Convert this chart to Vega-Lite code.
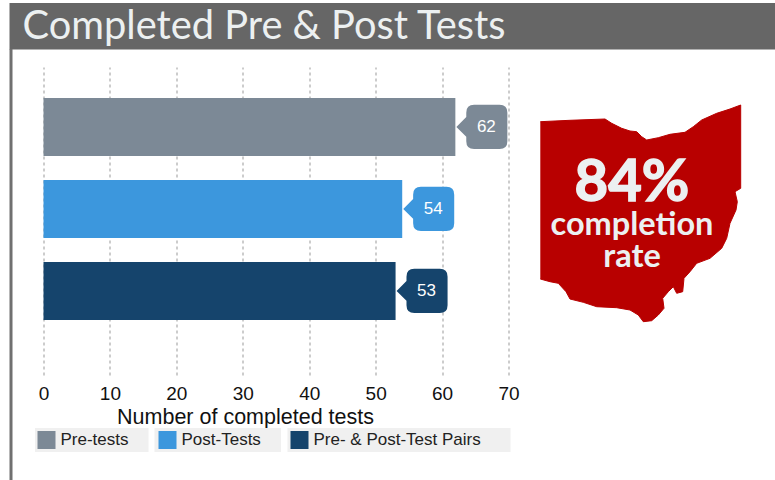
{
"$schema":"https://vega.github.io/schema/vega-lite/v6.json",
"width":465,"height":308,
"autosize":{"type":"none"},
"padding":{"left":43.5,"top":67,"right":266.5,"bottom":105},
"background":"white",
"title":{"text":"Completed Pre & Post Tests","anchor":"start","frame":"group","dx":-21,"offset":-76,"baseline":"alphabetic","font":"Lato","fontSize":39.8,"fontWeight":"normal","color":"#ecf0f1"},
"datasets":{
"tests":[{"series":"Pre-tests","count":62},{"series":"Post-Tests","count":54},{"series":"Pre- & Post-Test Pairs","count":53}],
"panels":[{"part":"header","left":9.5,"right":775,"top":3,"bottom":49.5},{"part":"border","left":9.5,"right":12.5,"top":49,"bottom":480},{"part":"key1","left":35,"right":148.5,"top":428,"bottom":452},{"part":"key2","left":154.5,"right":281,"top":428,"bottom":452},{"part":"key3","left":287.5,"right":510.5,"top":428,"bottom":452}],
"ohio":[{"i":1,"mx":540.3,"my":121.7},{"i":2,"mx":570,"my":120.3},{"i":3,"mx":605,"my":119},{"i":4,"mx":611.7,"my":123.3},{"i":5,"mx":621.7,"my":128.3},{"i":6,"mx":630,"my":131},{"i":7,"mx":636.7,"my":131.7},{"i":8,"mx":641.7,"my":136.7},{"i":9,"mx":646.7,"my":140},{"i":10,"mx":658.3,"my":137.7},{"i":11,"mx":670,"my":134.3},{"i":12,"mx":685,"my":132.3},{"i":13,"mx":693.3,"my":126.7},{"i":14,"mx":701.7,"my":120},{"i":15,"mx":716.7,"my":113.3},{"i":16,"mx":730,"my":109},{"i":17,"mx":740.7,"my":105},{"i":18,"mx":740.7,"my":188.3},{"i":19,"mx":735,"my":191.7},{"i":20,"mx":737.3,"my":201.7},{"i":21,"mx":736,"my":210},{"i":22,"mx":730,"my":223.3},{"i":23,"mx":726.7,"my":238.3},{"i":24,"mx":721.7,"my":248.3},{"i":25,"mx":710,"my":258.3},{"i":26,"mx":696.7,"my":263.3},{"i":27,"mx":690,"my":271.7},{"i":28,"mx":684,"my":278.3},{"i":29,"mx":682.7,"my":291.7},{"i":30,"mx":676.7,"my":293.3},{"i":31,"mx":673.3,"my":286.7},{"i":32,"mx":668.3,"my":291.7},{"i":33,"mx":662.7,"my":298.3},{"i":34,"mx":664,"my":308.3},{"i":35,"mx":658.3,"my":315},{"i":36,"mx":651.7,"my":320.7},{"i":37,"mx":643.3,"my":321.7},{"i":38,"mx":638.3,"my":315},{"i":39,"mx":630,"my":310},{"i":40,"mx":616.7,"my":307.7},{"i":41,"mx":596.7,"my":306.7},{"i":42,"mx":583.3,"my":302.3},{"i":43,"mx":570,"my":299},{"i":44,"mx":566,"my":291.7},{"i":45,"mx":558.3,"my":283.3},{"i":46,"mx":550,"my":281.7},{"i":47,"mx":540.3,"my":279}],
"callout":[{"label":"84%","mx":632,"my":201,"kind":"big"},{"label":"completion","mx":632,"my":235,"kind":"small"},{"label":"rate","mx":632,"my":267,"kind":"small"}]
},
"layer":[
{"data":{"name":"panels"},"mark":{"type":"rect","stroke":null},
 "encoding":{
 "x":{"field":"left","type":"quantitative","axis":null,"scale":{"domain":[0,775],"range":[-43.5,731.5]}},
 "x2":{"field":"right"},
 "y":{"field":"top","type":"quantitative","axis":null,"scale":{"domain":[0,480],"range":[-67,413]}},
 "y2":{"field":"bottom"},
 "color":{"field":"part","type":"nominal","legend":null,"scale":{"domain":["header","border","key1","key2","key3"],"range":["#666666","#707070","#f0f0f0","#f0f0f0","#f0f0f0"]}}}},
{"data":{"name":"ohio"},"mark":{"type":"line","filled":true,"fill":"#b80000","stroke":"#b80000","strokeWidth":1},
 "encoding":{
 "x":{"field":"mx","type":"quantitative","axis":null,"scale":{"domain":[0,775],"range":[-43.5,731.5]}},
 "y":{"field":"my","type":"quantitative","axis":null,"scale":{"domain":[0,480],"range":[-67,413]}},
 "order":{"field":"i","type":"quantitative"}}},
{"data":{"name":"callout"},"transform":[{"filter":"datum.kind=='big'"}],"mark":{"type":"text","font":"Lato","fontWeight":"bold","fontSize":58,"color":"#ecf0f1","stroke":"#ecf0f1","strokeWidth":1.5,"baseline":"alphabetic"},
 "encoding":{
 "x":{"field":"mx","type":"quantitative","axis":null,"scale":{"domain":[0,775],"range":[-43.5,731.5]}},
 "y":{"field":"my","type":"quantitative","axis":null,"scale":{"domain":[0,480],"range":[-67,413]}},
 "text":{"field":"label"}}},
{"data":{"name":"callout"},"transform":[{"filter":"datum.kind=='small'"}],"mark":{"type":"text","font":"Lato","fontWeight":"bold","fontSize":32.5,"color":"#ecf0f1","baseline":"alphabetic"},
 "encoding":{
 "x":{"field":"mx","type":"quantitative","axis":null,"scale":{"domain":[0,775],"range":[-43.5,731.5]}},
 "y":{"field":"my","type":"quantitative","axis":null,"scale":{"domain":[0,480],"range":[-67,413]}},
 "text":{"field":"label"}}},
{"data":{"name":"tests"},
 "encoding":{
 "x":{"field":"count","type":"quantitative","scale":{"domain":[0,70],"nice":false},
  "axis":{"values":[0,10,20,30,40,50,60,70],"title":"Number of completed tests","domain":false,"ticks":false,"grid":true,"gridDash":[3,3],"gridColor":"#999999","gridWidth":1,"labelFont":"Liberation Sans","labelFontSize":19,"labelColor":"#111111","labelPadding":9,"labelFlush":false,"titleFont":"Liberation Sans","titleFontSize":21.5,"titleFontWeight":"normal","titleColor":"#111111","titleX":201.5,"titleY":48,"titleBaseline":"alphabetic"}},
 "y":{"field":"series","type":"nominal","axis":null,"sort":["Pre-tests","Post-Tests","Pre- & Post-Test Pairs"],"scale":{"paddingInner":0.2927,"paddingOuter":0.5244,"align":0.36}},
 "color":{"field":"series","type":"nominal","sort":["Pre-tests","Post-Tests","Pre- & Post-Test Pairs"],"scale":{"domain":["Pre-tests","Post-Tests","Pre- & Post-Test Pairs"],"range":["#7c8996","#3c97dd","#15446c"]},
  "legend":{"title":null,"orient":"none","legendX":-6,"legendY":364,"direction":"horizontal","columns":3,"symbolType":"square","symbolSize":324,"symbolStrokeWidth":0,"symbolOpacity":1,"labelFont":"Liberation Sans","labelFontSize":17,"labelColor":"#222222","labelOffset":5,"columnPadding":29,"padding":0,"labelLimit":300}}},
 "layer":[
 {"mark":{"type":"bar","cornerRadius":0}},
 {"mark":{"type":"point","filled":true,"opacity":1,"size":2704,"shape":"M0.04 0 L0.42 -0.38 L0.42 -0.55 Q0.42 -0.85 0.72 -0.85 L1.7 -0.85 Q2 -0.85 2 -0.55 L2 0.55 Q2 0.85 1.7 0.85 L0.72 0.85 Q0.42 0.85 0.42 0.55 L0.42 0.38 Z"}},
 {"mark":{"type":"text","dx":31,"font":"Liberation Sans","fontSize":17,"color":"white"},"encoding":{"text":{"field":"count","type":"quantitative"},"color":{"value":"white"}}}
 ]}
],
"resolve":{"scale":{"x":"independent","y":"independent","color":"independent"}},
"config":{"view":{"stroke":null}}
}
